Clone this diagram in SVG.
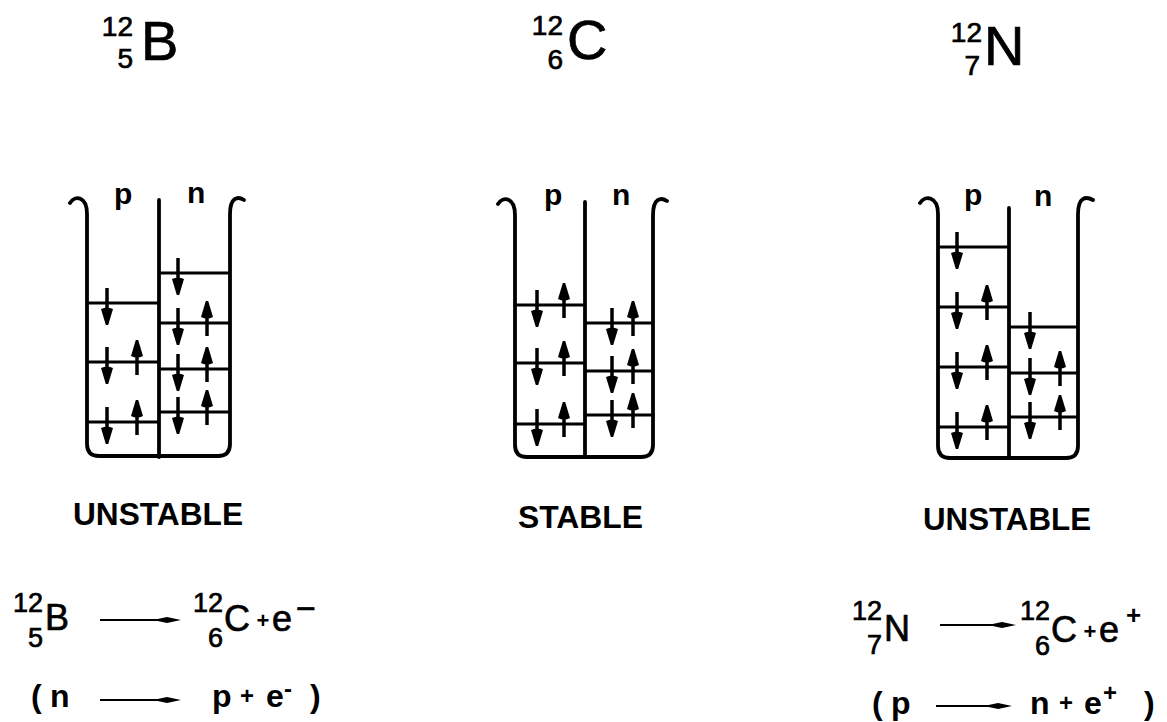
<svg xmlns="http://www.w3.org/2000/svg" width="1167" height="722" viewBox="0 0 1167 722">
<style>
.wall{fill:none;stroke:#000;stroke-width:3.8;stroke-linecap:round;stroke-linejoin:round}
.lvl{fill:none;stroke:#000;stroke-width:3}
.t{font-family:"Liberation Sans",Arial,Helvetica,sans-serif;fill:#000}
.r{stroke:#000;stroke-width:0.7}
.b{font-weight:bold}
.big{font-size:56px}
.num{font-size:28px}
.pn{font-size:30px;font-weight:bold}
.lab{font-size:32px;font-weight:bold}
.eq{font-size:36px}
.eqn{font-size:27px}
.eq2{font-size:32px;font-weight:bold}
.pl{font-size:24px;font-weight:bold}
.sh{stroke:#000;stroke-width:3.5;fill:none}
.hd{fill:#000}
.ln{stroke:#000;stroke-width:2;fill:none}
</style>
<defs>
<g id="dn"><path class="sh" d="M0,-15V10"/><path class="hd" d="M-6,6 Q0,3 6,6 L1.2,22 H-1.2Z"/></g>
<g id="up"><path class="sh" d="M0,13V-10"/><path class="hd" d="M-6,-6 Q0,-3 6,-6 L1.2,-22 H-1.2Z"/></g>
<g id="eqhead"><path class="hd" d="M-28,0 L-14,-3 L0,0 L-14,3Z"/></g>
</defs>
<rect width="1167" height="722" fill="#fff"/>

<g id="title-B" class="t r">
<text class="num" x="133" y="36" text-anchor="end">12</text>
<text class="num" x="133" y="68" text-anchor="end">5</text>
<text class="big" x="141" y="60">B</text>
</g>
<g id="title-C" class="t r">
<text class="num" x="563" y="35" text-anchor="end">12</text>
<text class="num" x="563" y="69" text-anchor="end">6</text>
<text class="big" x="567" y="59">C</text>
</g>
<g id="title-N" class="t r">
<text class="num" x="982" y="42" text-anchor="end">12</text>
<text class="num" x="980" y="75" text-anchor="end">7</text>
<text class="big" x="984" y="65">N</text>
</g>

<g id="well-B">
<path class="wall" d="M70,203 C75,195 87,196 87,214 V444 Q87,456 99,456 H218 Q230,456 230,444 V214 C230,197 238,196 244,200"/>
<path class="wall" d="M159,200V457"/>
<path class="lvl" d="M87,303H159 M87,362H159 M87,422H159 M159,273H230 M159,323H230 M159,369H230 M159,412H230"/>
<use href="#dn" x="107" y="303"/>
<use href="#dn" x="107" y="362"/><use href="#up" x="137" y="362"/>
<use href="#dn" x="107" y="422"/><use href="#up" x="137" y="422"/>
<use href="#dn" x="178" y="273"/>
<use href="#dn" x="178" y="323"/><use href="#up" x="207" y="323"/>
<use href="#dn" x="178" y="369"/><use href="#up" x="207" y="369"/>
<use href="#dn" x="178" y="412"/><use href="#up" x="207" y="412"/>
<text class="t pn" x="114" y="204">p</text>
<text class="t pn" x="187" y="203">n</text>
<text class="t lab" x="73" y="525" textLength="170" lengthAdjust="spacingAndGlyphs">UNSTABLE</text>
</g>

<g id="well-C">
<path class="wall" d="M498,204 C503,196 515,197 515,215 V445 Q515,457 527,457 H641 Q653,457 653,445 V215 C653,198 661,197 667,201"/>
<path class="wall" d="M585,202V457"/>
<path class="lvl" d="M515,305H585 M515,363H585 M515,424H585 M585,323H653 M585,371H653 M585,415H653"/>
<use href="#dn" x="537" y="305"/><use href="#up" x="564" y="305"/>
<use href="#dn" x="537" y="363"/><use href="#up" x="564" y="363"/>
<use href="#dn" x="537" y="424"/><use href="#up" x="564" y="424"/>
<use href="#dn" x="612" y="323"/><use href="#up" x="633" y="323"/>
<use href="#dn" x="612" y="371"/><use href="#up" x="633" y="371"/>
<use href="#dn" x="612" y="415"/><use href="#up" x="633" y="415"/>
<text class="t pn" x="544" y="205">p</text>
<text class="t pn" x="612" y="205">n</text>
<text class="t lab" x="518" y="528" textLength="125" lengthAdjust="spacingAndGlyphs">STABLE</text>
</g>

<g id="well-N">
<path class="wall" d="M920,203 C925,195 938,196 938,214 V446 Q938,458 950,458 H1066 Q1078,458 1078,446 V214 C1078,197 1086,196 1093,200"/>
<path class="wall" d="M1009,208V458"/>
<path class="lvl" d="M938,247H1009 M938,307H1009 M938,367H1009 M938,427H1009 M1009,327H1078 M1009,373H1078 M1009,417H1078"/>
<use href="#dn" x="957" y="247"/>
<use href="#dn" x="957" y="307"/><use href="#up" x="987" y="307"/>
<use href="#dn" x="957" y="367"/><use href="#up" x="987" y="367"/>
<use href="#dn" x="957" y="427"/><use href="#up" x="987" y="427"/>
<use href="#dn" x="1030" y="327"/>
<use href="#dn" x="1030" y="373"/><use href="#up" x="1060" y="373"/>
<use href="#dn" x="1030" y="417"/><use href="#up" x="1060" y="417"/>
<text class="t pn" x="964" y="205">p</text>
<text class="t pn" x="1034" y="206">n</text>
<text class="t lab" x="923" y="530" textLength="168" lengthAdjust="spacingAndGlyphs">UNSTABLE</text>
</g>

<g id="eq-B" class="t">
<text class="eqn r" x="43" y="612" text-anchor="end">12</text>
<text class="eqn r" x="43" y="647" text-anchor="end">5</text>
<text class="eq r" x="45" y="630">B</text>
<text class="eqn r" x="223" y="612" text-anchor="end">12</text>
<text class="eqn r" x="223" y="647" text-anchor="end">6</text>
<text class="eq r" x="224" y="631">C</text>
<text class="b" style="font-size:22px" x="263" y="628" text-anchor="middle">+</text>
<text class="eq r" x="272" y="631">e</text>
<text class="r" style="font-size:34px" x="296" y="620">−</text>
<text class="eq2" x="31" y="707">(</text>
<text class="eq2" x="50" y="707">n</text>
<text class="eq2" x="212" y="707">p</text>
<text class="pl" x="247" y="704" text-anchor="middle">+</text>
<text class="eq2" x="266" y="707">e</text>
<text class="b" style="font-size:24px" x="284" y="697">-</text>
<text class="eq2" x="310" y="707">)</text>
</g>

<g id="eq-N" class="t">
<text class="eqn r" x="882" y="620" text-anchor="end">12</text>
<text class="eqn r" x="882" y="654" text-anchor="end">7</text>
<text class="eq r" x="884" y="641">N</text>
<text class="eqn r" x="1050" y="620" text-anchor="end">12</text>
<text class="eqn r" x="1050" y="655" text-anchor="end">6</text>
<text class="eq r" x="1051" y="642">C</text>
<text class="b" style="font-size:22px" x="1090" y="639" text-anchor="middle">+</text>
<text class="eq r" x="1099" y="642">e</text>
<text class="b" style="font-size:26px" x="1126" y="624">+</text>
<text class="eq2" x="872" y="714">(</text>
<text class="eq2" x="891" y="714">p</text>
<text class="eq2" x="1030" y="714">n</text>
<text class="pl" x="1066" y="711" text-anchor="middle">+</text>
<text class="eq2" x="1084" y="714">e</text>
<text class="b" style="font-size:24px" x="1103" y="701">+</text>
<text class="eq2" x="1144" y="714">)</text>
</g>

<g id="connectors">
<path class="ln" d="M100,620H165"/><use href="#eqhead" x="181" y="620"/>
<path class="ln" d="M940,625H1000"/><use href="#eqhead" x="1016" y="625"/>
<path class="ln" d="M100,700H165"/><use href="#eqhead" x="181" y="700"/>
<path class="ln" d="M936,706H996"/><use href="#eqhead" x="1012" y="706"/>
</g>
</svg>
